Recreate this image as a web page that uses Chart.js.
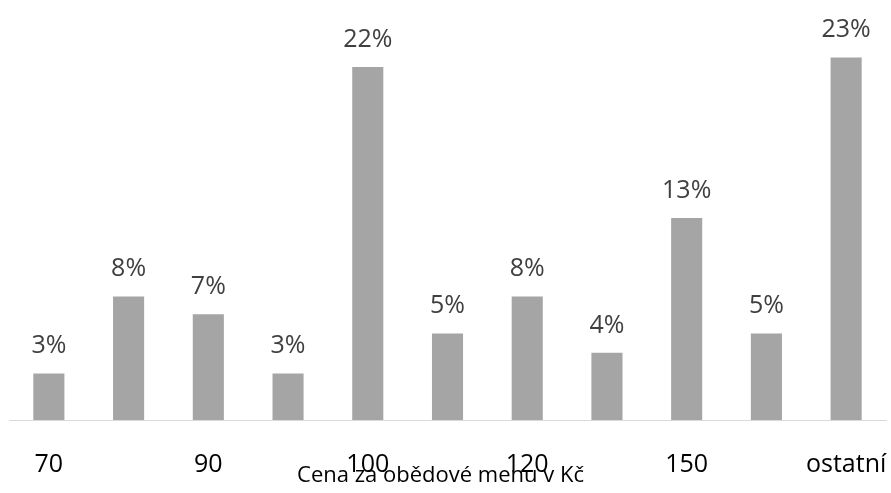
<!DOCTYPE html>
<html>
<head>
<meta charset="utf-8">
<script src="https://cdn.jsdelivr.net/npm/chart.js@4"></script>
<style>
  html, body { margin: 0; padding: 0; background: #fff; overflow: hidden; }
  canvas { display: block; }
</style>
</head>
<body>
<canvas id="chart" width="891" height="493"></canvas>
<script>
// Cena za obědové menu – podíly
const categories = ['70', '', '90', '', '100', '', '120', '', '150', '', 'ostatní'];
const shares = [2.9, 7.7, 6.6, 2.9, 22.0, 5.4, 7.7, 4.2, 12.6, 5.4, 22.6];
const axisTitle = 'Cena za obědové menu v Kč';

const FONT = "'Open Sans', sans-serif";

// popisky hodnot nad sloupci + název osy
const valueLabels = {
    id: 'valueLabels',
    afterDatasetsDraw(chart) {
        const ctx = chart.ctx;
        const meta = chart.getDatasetMeta(0);
        ctx.save();
        ctx.font = '25px ' + FONT;
        ctx.fillStyle = '#404040';
        ctx.textAlign = 'center';
        ctx.textBaseline = 'alphabetic';
        meta.data.forEach((bar, i) => {
            ctx.fillText(Math.round(shares[i]) + '%', bar.x, bar.y - 20);
        });
        // název osy x, těsně pod popisky jako v originále
        ctx.font = '22px ' + FONT;
        ctx.fillStyle = '#000';
        ctx.fillText(axisTitle, chart.width / 2 - 5, chart.height - 11);
        ctx.restore();
    }
};

new Chart(document.getElementById('chart'), {
    type: 'bar',
    data: {
        labels: categories,
        datasets: [{
            data: shares,
            backgroundColor: '#a5a5a5',
            barPercentage: 0.78,
            categoryPercentage: 0.5
        }]
    },
    options: {
        responsive: false,
        animation: false,
        layout: { padding: { top: 19, left: 9, right: 5, bottom: 0 } },
        plugins: { legend: { display: false }, tooltip: { enabled: false } },
        scales: {
            x: {
                grid: { display: false, drawTicks: false },
                border: { display: true, color: '#d9d9d9', width: 1 },
                ticks: {
                    autoSkip: false,
                    maxRotation: 0,
                    padding: 30,
                    color: '#000',
                    font: { family: FONT, size: 25 }
                },
                afterFit(scale) {
                    // pevná výška osy a žádné odsazení kvůli popiskům
                    scale.height = 73;
                    scale.paddingLeft = 0;
                    scale.paddingRight = 0;
                }
            },
            y: {
                display: false,
                min: 0,
                max: 25
            }
        }
    },
    plugins: [valueLabels]
});
</script>
</body>
</html>
